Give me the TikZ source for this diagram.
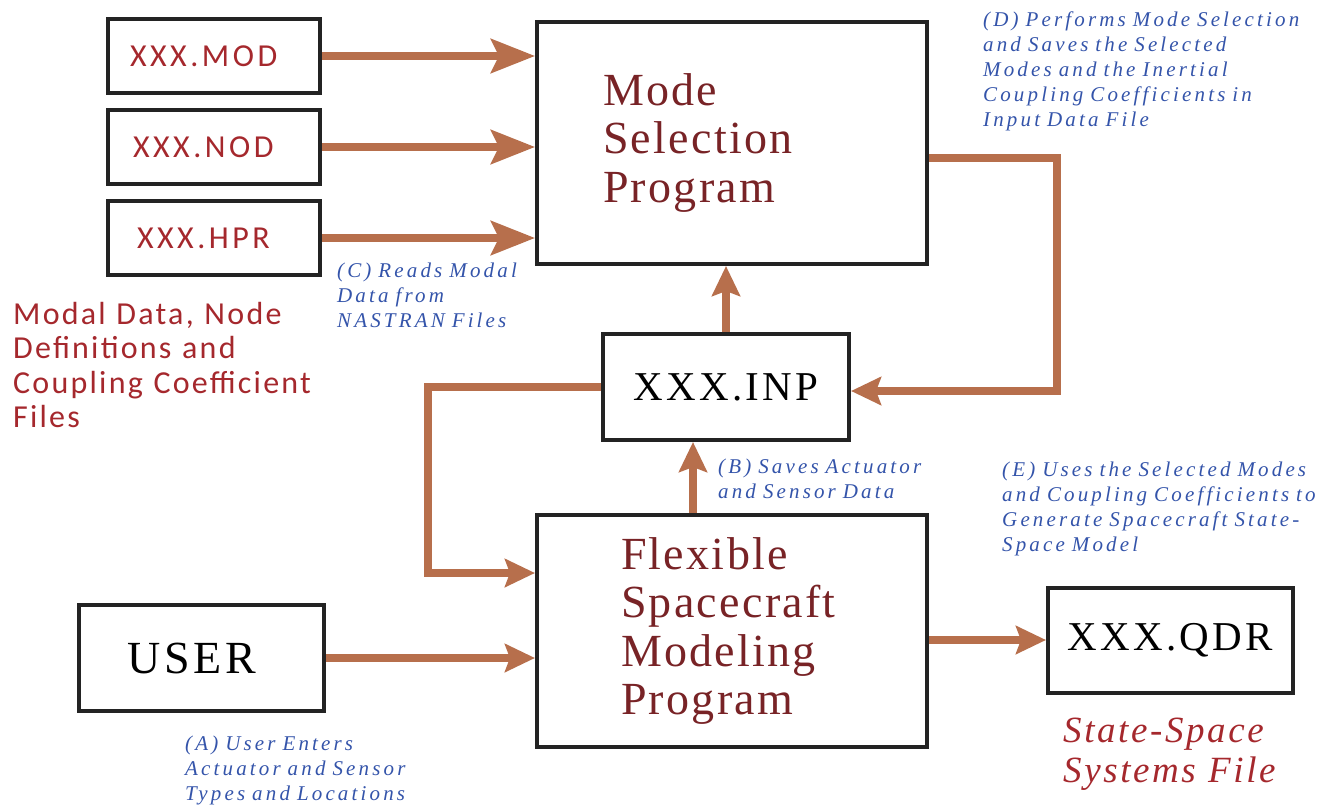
\documentclass[tikz,border=0pt]{standalone}
\usepackage{fontspec}
\setmainfont{Liberation Serif}
\setsansfont{Carlito}
% letter-spaced faces for the box labels and remarks
\newfontfamily\progfont[LetterSpace=5]{Liberation Serif}
\newfontfamily\namefont[LetterSpace=8]{Liberation Serif}
\newfontfamily\notefont[LetterSpace=15]{Liberation Serif}
\newfontfamily\outfont[LetterSpace=7]{Liberation Serif}
\newfontfamily\filefont[LetterSpace=11]{Carlito}
\newfontfamily\groupfont[LetterSpace=7]{Carlito}
\usetikzlibrary{positioning,arrows.meta}

\definecolor{copper}{RGB}{183,111,76}
\definecolor{boxline}{RGB}{35,35,35}
\definecolor{noteblue}{RGB}{52,84,170}
\definecolor{filered}{RGB}{165,40,45}
\definecolor{progred}{RGB}{120,35,38}

\begin{document}
\begin{tikzpicture}[x=1pt, y=-1pt,
      filebox/.style={draw=boxline, line width=4pt, minimum width=212pt,
        minimum height=74pt, inner ysep=0pt, inner xsep=22pt,
        text width=168pt, align=left, text=filered,
        font=\filefont\fontsize{32}{34}\selectfont},
      progbox/.style={draw=boxline, line width=4pt, minimum width=390pt,
        align=left, inner ysep=0pt, text=progred,
        font=\progfont\fontsize{46}{48.5}\selectfont},
      databox/.style={draw=boxline, line width=4pt, minimum width=246pt,
        minimum height=106pt, inner sep=0pt,
        font=\namefont\fontsize{41}{45}\selectfont},
      remark/.style={anchor=base west, inner sep=0pt, text width=360pt,
        align=left, text=noteblue,
        font=\notefont\itshape\fontsize{21}{25}\selectfont},
      flow/.style={draw=copper, line width=7.5pt,
        -{Stealth[length=30pt, width=28pt, inset=5pt]}},
      feed/.style={flow, -{Stealth[length=44pt, width=34pt, inset=8pt]}}]

    \useasboundingbox (0,0) rectangle (1333,808);

    % NASTRAN files
    \node[filebox] (mod) at (214,56) {XXX.MOD};
    \node[filebox, below=13pt of mod] (nod) {\hspace*{3pt}XXX.NOD};
    \node[filebox, below=13pt of nod] (hpr) {\hspace*{7pt}XXX.HPR};
    \node[anchor=base west, inner sep=0pt, text width=330pt, align=left,
      text=filered, font=\groupfont\fontsize{32}{34.5}\selectfont]
      (group) at (13,324) {Modal Data, Node\\Definitions and\\Coupling
      Coefficient\\Files};

    % programs
    \node[progbox, text width=258pt, inner xsep=66pt, minimum height=242pt]
      (mode) at (732,143) {Mode\\Selection\\Program};
    \node[progbox, text width=222pt, inner xsep=84pt, minimum height=232pt]
      (flex) at (732,631) {Flexible\\Spacecraft\\Modeling\\Program};

    % data files
    \node[databox] (inp) at (726,387) {XXX.INP};
    \node[databox, minimum width=245pt, font=\namefont\fontsize{46}{48}\selectfont]
      (user) at (201.5,658) {\hspace*{-19pt}USER};
    \node[databox, minimum width=245pt, minimum height=105pt]
      (qdr) at (1170.5,640) {XXX.QDR};
    \node[anchor=base west, inner sep=0pt, text width=260pt, align=left,
      text=filered, font=\outfont\itshape\fontsize{37}{40}\selectfont]
      (qdrnote) at (1063,742) {State-Space\\Systems File};

    % remarks
    \node[remark] (noteA) at (185,750) {(A) User Enters\\Actuator and
      Sensor\\Types and Locations};
    \node[remark] (noteB) at (718,473) {(B) Saves Actuator\\and Sensor
      Data};
    \node[remark] (noteC) at (337,277) {(C) Reads Modal\\Data
      from\\NASTRAN Files};
    \node[remark] (noteD) at (983,27) {(D) Performs Mode Selection\\and
      Saves the Selected\\Modes and the Inertial\\Coupling Coefficients
      in\\Input Data File};
    \node[remark] (noteE) at (1002,476) {(E) Uses the Selected
      Modes\\and Coupling Coefficients to\\Generate Spacecraft
      State-\\Space Model};

    \foreach \f in {mod,nod,hpr} {\draw[feed] (\f.east) -- (\f.east -| mode.west);}

    \draw[flow] (inp.north) -- (inp.north |- mode.south);
    \draw[flow] ([yshift=-15pt]mode.east) -- ++(128,0) |- ([yshift=-4pt]inp.east);
    \draw[flow] (inp.west) -- ++(-173,0) |- ([yshift=58pt]flex.west);
    \draw[flow] ([xshift=-39pt]flex.north) -- ([xshift=-33pt]inp.south);
    \draw[flow] (user.east) -- (user.east -| flex.west);
    \draw[flow] (qdr.west -| flex.east) -- (qdr.west);
  \end{tikzpicture}
\end{document}
